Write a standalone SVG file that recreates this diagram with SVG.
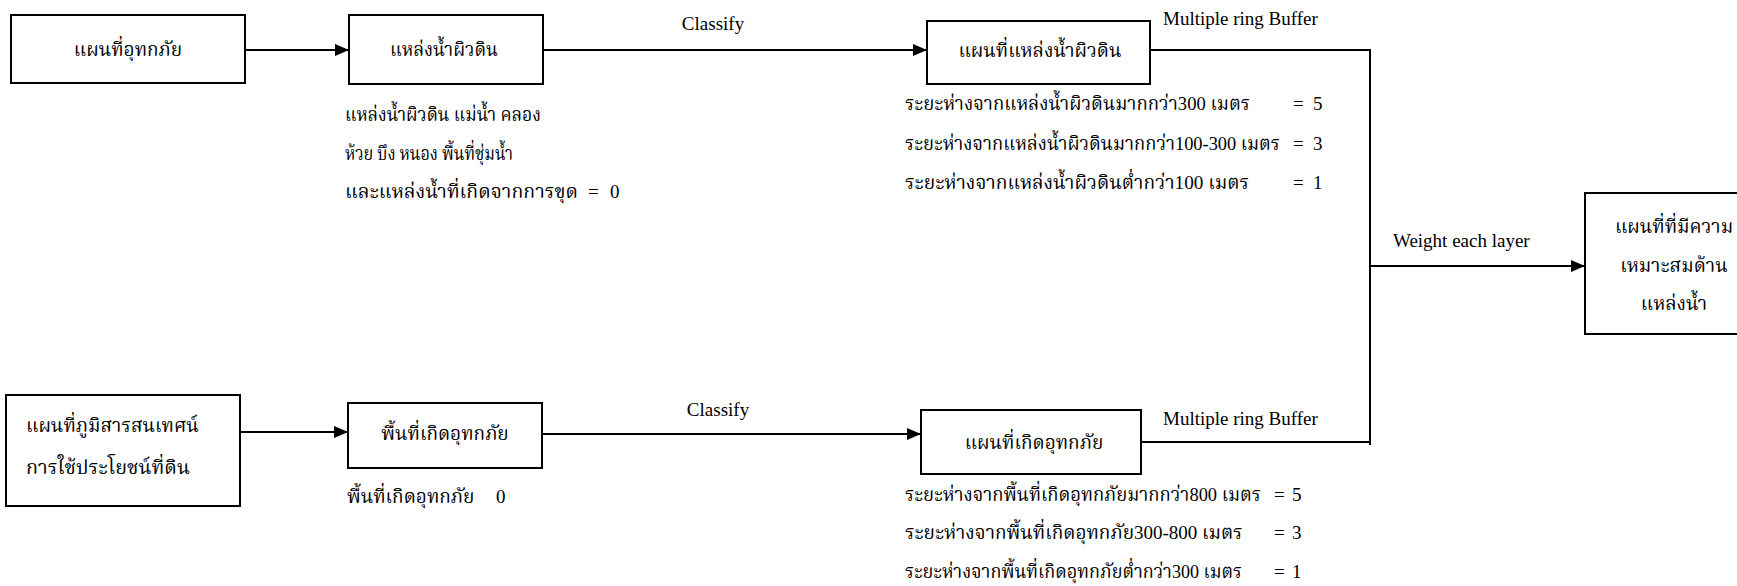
<svg xmlns="http://www.w3.org/2000/svg" width="1737" height="586" viewBox="0 0 1737 586">
<defs>
<marker id="arr" markerWidth="14" markerHeight="12" refX="14" refY="6" orient="auto" markerUnits="userSpaceOnUse">
<path d="M0,0 L14,6 L0,12 Z" fill="#000"/>
</marker>
<style>
.box{fill:#fff;stroke:#000;stroke-width:2}
.ln{fill:none;stroke:#000;stroke-width:2}
.t{font-family:"Liberation Serif","Noto Serif Thai","Noto Sans Thai",serif;font-size:19px;fill:#000}
.c{text-anchor:middle}
</style>
</defs>
<rect width="1737" height="586" fill="#fff"/>
<g id="connectors">
<line class="ln" x1="245" y1="50" x2="349" y2="50" marker-end="url(#arr)"/>
<line class="ln" x1="543" y1="50" x2="927" y2="50" marker-end="url(#arr)"/>
<polyline class="ln" points="1150,50 1370,50 1370,445"/>
<line class="ln" x1="1141" y1="442" x2="1370" y2="442"/>
<line class="ln" x1="1370" y1="266" x2="1585" y2="266" marker-end="url(#arr)"/>
<line class="ln" x1="240" y1="432" x2="348" y2="432" marker-end="url(#arr)"/>
<line class="ln" x1="542" y1="434" x2="921" y2="434" marker-end="url(#arr)"/>
<text class="t c" x="713" y="30">Classify</text>
<text class="t c" x="718" y="416">Classify</text>
<text class="t" x="1163" y="25">Multiple ring Buffer</text>
<text class="t" x="1163" y="425">Multiple ring Buffer</text>
<text class="t" x="1393" y="247">Weight each layer</text>
</g>
<g id="n1">
<rect class="box" x="11" y="15" width="234" height="68"/>
<text class="t c" x="128" y="56">แผนที่อุทกภัย</text>
</g>
<g id="n2">
<rect class="box" x="349" y="15" width="194" height="69"/>
<text class="t c" x="444" y="56" textLength="108" lengthAdjust="spacingAndGlyphs">แหล่งน้ำผิวดิน</text>
<text class="t" x="345" y="121" textLength="196" lengthAdjust="spacingAndGlyphs">แหล่งน้ำผิวดิน แม่น้ำ คลอง</text>
<text class="t" x="345" y="160" textLength="168" lengthAdjust="spacingAndGlyphs">ห้วย บึง หนอง พื้นที่ชุ่มน้ำ</text>
<text class="t" x="345" y="198" textLength="233" lengthAdjust="spacingAndGlyphs">และแหล่งน้ำที่เกิดจากการขุด</text>
<text class="t" x="588" y="198">=</text>
<text class="t" x="610" y="198">0</text>
</g>
<g id="n3">
<rect class="box" x="927" y="21" width="223" height="63"/>
<text class="t c" x="1040" y="57">แผนที่แหล่งน้ำผิวดิน</text>
<text class="t" x="905" y="110" textLength="345" lengthAdjust="spacingAndGlyphs">ระยะห่างจากแหล่งน้ำผิวดินมากกว่า300 เมตร</text>
<text class="t" x="905" y="150" textLength="375" lengthAdjust="spacingAndGlyphs">ระยะห่างจากแหล่งน้ำผิวดินมากกว่า100-300 เมตร</text>
<text class="t" x="905" y="189" textLength="344" lengthAdjust="spacingAndGlyphs">ระยะห่างจากแหล่งน้ำผิวดินต่ำกว่า100 เมตร</text>
<text class="t" x="1293" y="110">=</text><text class="t" x="1313" y="110">5</text>
<text class="t" x="1293" y="150">=</text><text class="t" x="1313" y="150">3</text>
<text class="t" x="1293" y="189">=</text><text class="t" x="1313" y="189">1</text>
</g>
<g id="n4">
<rect class="box" x="6" y="395" width="234" height="111"/>
<text class="t" x="26" y="432">แผนที่ภูมิสารสนเทศน์</text>
<text class="t" x="26" y="474" textLength="164" lengthAdjust="spacingAndGlyphs">การใช้ประโยชน์ที่ดิน</text>
</g>
<g id="n5">
<rect class="box" x="348" y="403" width="194" height="65"/>
<text class="t c" x="445" y="440">พื้นที่เกิดอุทกภัย</text>
<text class="t" x="347" y="503">พื้นที่เกิดอุทกภัย</text>
<text class="t" x="496" y="503">0</text>
</g>
<g id="n6">
<rect class="box" x="921" y="410" width="220" height="64"/>
<text class="t c" x="1034" y="449">แผนที่เกิดอุทกภัย</text>
<text class="t" x="905" y="501" textLength="356" lengthAdjust="spacingAndGlyphs">ระยะห่างจากพื้นที่เกิดอุทกภัยมากกว่า800 เมตร</text>
<text class="t" x="905" y="539">ระยะห่างจากพื้นที่เกิดอุทกภัย300-800 เมตร</text>
<text class="t" x="905" y="578" textLength="337" lengthAdjust="spacingAndGlyphs">ระยะห่างจากพื้นที่เกิดอุทกภัยต่ำกว่า300 เมตร</text>
<text class="t" x="1274" y="501">=</text><text class="t" x="1292" y="501">5</text>
<text class="t" x="1274" y="539">=</text><text class="t" x="1292" y="539">3</text>
<text class="t" x="1274" y="578">=</text><text class="t" x="1292" y="578">1</text>
</g>
<g id="n7">
<rect class="box" x="1585" y="193" width="175" height="141"/>
<text class="t c" x="1674" y="233">แผนที่ที่มีความ</text>
<text class="t c" x="1674" y="272">เหมาะสมด้าน</text>
<text class="t c" x="1674" y="310">แหล่งน้ำ</text>
</g>
</svg>
